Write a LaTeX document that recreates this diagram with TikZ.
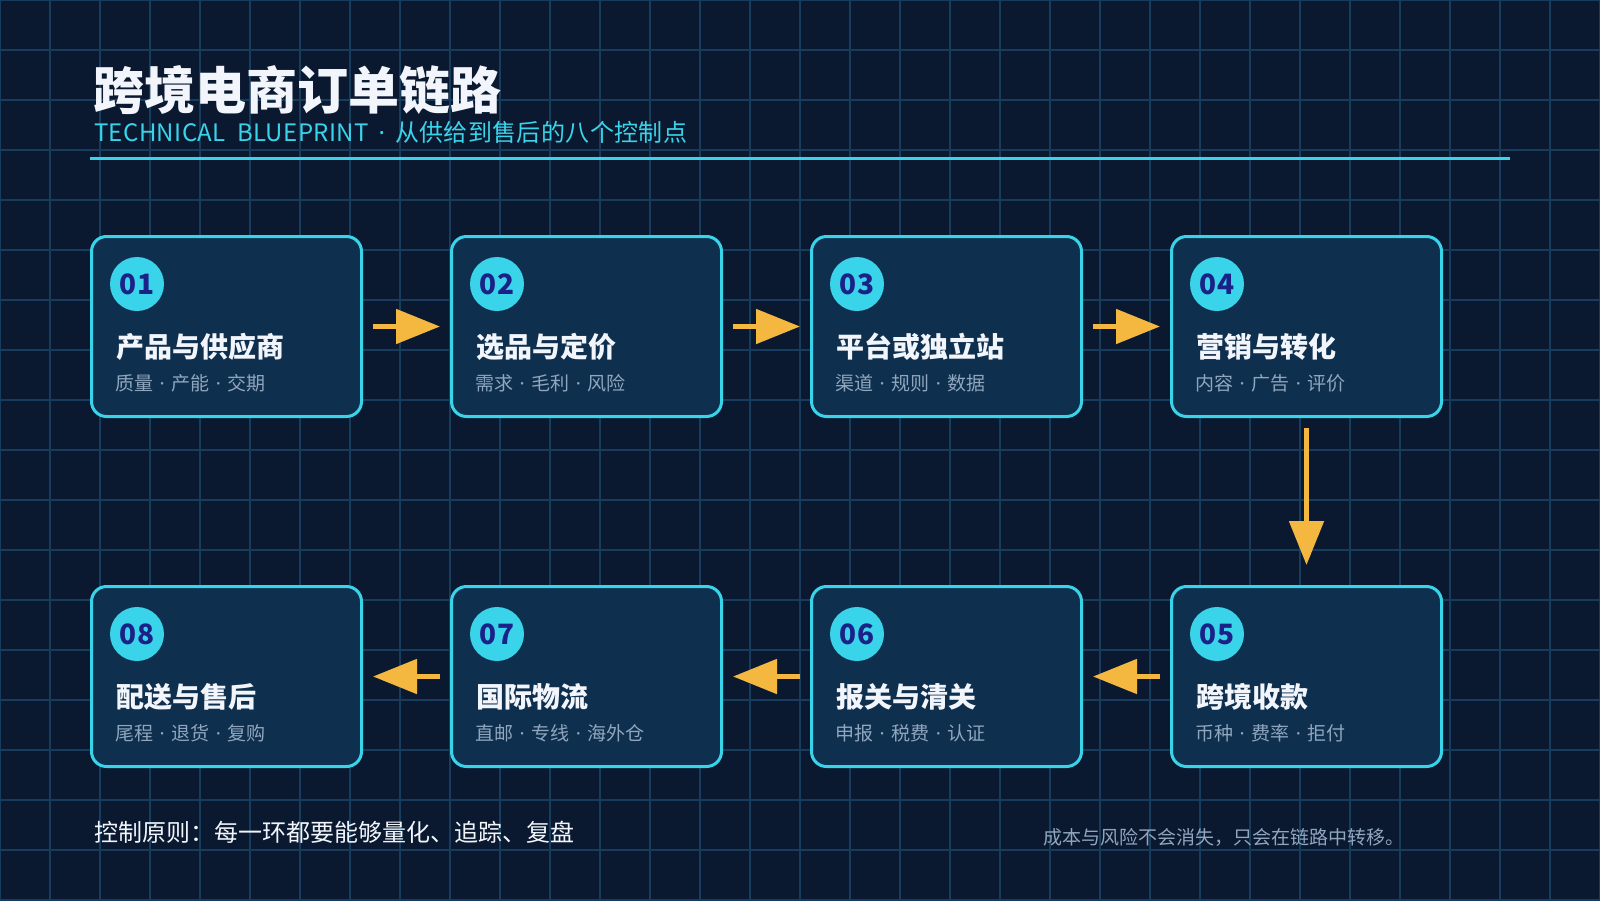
\documentclass[tikz,border=0pt]{standalone}
\usepackage{fontspec}
\setmainfont{Noto Sans CJK SC}
\newfontfamily\latinfont{Noto Sans}
\usetikzlibrary{arrows.meta, positioning, calc}
\usepackage{xcolor}
\definecolor{bgnavy}{HTML}{0A1930}
\definecolor{gridline}{HTML}{163D5E}
\definecolor{boxfill}{HTML}{0F2F4E}
\definecolor{neon}{HTML}{3AD4EA}
\definecolor{amber}{HTML}{F4B840}
\definecolor{numink}{HTML}{1A2288}
\definecolor{subgray}{HTML}{8FA6BE}
\definecolor{softwhite}{HTML}{F2F6FC}
\newcommand{\fsz}[1]{\fontsize{#1}{#1}\selectfont}
\newcommand{\sdot}[1][6.5pt]{\hspace{#1}{\latinfont ·}\hspace{#1}}

\begin{document}
\begin{tikzpicture}[x=1pt, y=-1pt,
  stage/.style={draw=neon, line width=3pt, fill=boxfill, rounded corners=15pt,
                minimum width=270pt, minimum height=180pt, anchor=north west, inner sep=0pt},
  badge/.style={circle, fill=neon, minimum size=54pt, inner sep=0pt, text=numink,
                font=\fsz{28}\bfseries},
  flow/.style={amber, line width=5pt, -{Triangle[length=44pt, width=34pt]}}]
  % canvas
  \useasboundingbox (0,0) rectangle (1600,900);
  \fill[bgnavy] (0,0) rectangle (1600,900);
  % grid
  \foreach \x in {0,50,...,1600}
    \draw[gridline, line width=1.2pt] (\x,0) -- (\x,900);
  \foreach \y in {0,50,...,900}
    \draw[gridline, line width=1.2pt] (0,\y) -- (1600,\y);
  % header
  \node[anchor=west, inner sep=0pt, text=softwhite] (title) at (93,90)
    {\fsz{51}\bfseries 跨境电商订单链路};
  \node[anchor=west, inner sep=0pt, text=neon] (subtitle) at (94,132)
    {\fsz{24}\addfontfeatures{LetterSpace=1.5}TECHNICAL~~BLUEPRINT\sdot[10pt]从供给到售后的八个控制点};
  \draw[neon, line width=3pt] (90,158) -- (1510,158);
  % stages
  \foreach \n/\x/\y/\t/\s in {1/90/235/产品与供应商/质量\sdot{}产能\sdot{}交期,
                              2/450/235/选品与定价/需求\sdot{}毛利\sdot{}风险,
                              3/810/235/平台或独立站/渠道\sdot{}规则\sdot{}数据,
                              4/1170/235/营销与转化/内容\sdot{}广告\sdot{}评价,
                              5/1170/585/跨境收款/币种\sdot{}费率\sdot{}拒付,
                              6/810/585/报关与清关/申报\sdot{}税费\sdot{}认证,
                              7/450/585/国际物流/直邮\sdot{}专线\sdot{}海外仓,
                              8/90/585/配送与售后/尾程\sdot{}退货\sdot{}复购} {
    \node[stage] (b\n) at (\x,\y) {};
    \node[badge] (n\n) at ([shift={(47,49)}]b\n.north west) {0\n};
    \node[anchor=west, inner sep=0pt, text=softwhite, font=\fsz{28}\bfseries]
      (t\n) at ([shift={(26,112)}]b\n.north west) {\t};
    \node[anchor=west, inner sep=0pt, text=subgray, font=\fsz{19}]
      (s\n) at ([shift={(25,148)}]b\n.north west) {\s};
  }
  % arrows
  \foreach \a/\b in {1/2, 2/3, 3/4, 5/6, 6/7, 7/8}
    \draw[flow, shorten <=10pt, shorten >=10pt] (b\a) -- (b\b);
  \draw[flow, shorten <=10pt, shorten >=20pt] (b4) -- (b5);
  % footer
  \node[anchor=west, inner sep=0pt, text=softwhite, font=\fsz{24}] (rule) at (94,832)
    {控制原则：每一环都要能够量化、追踪、复盘};
  \node[anchor=west, inner sep=0pt, text=subgray, font=\fsz{19}] (note) at (1043,837)
    {成本与风险不会消失，只会在链路中转移。};
\end{tikzpicture}
\end{document}
